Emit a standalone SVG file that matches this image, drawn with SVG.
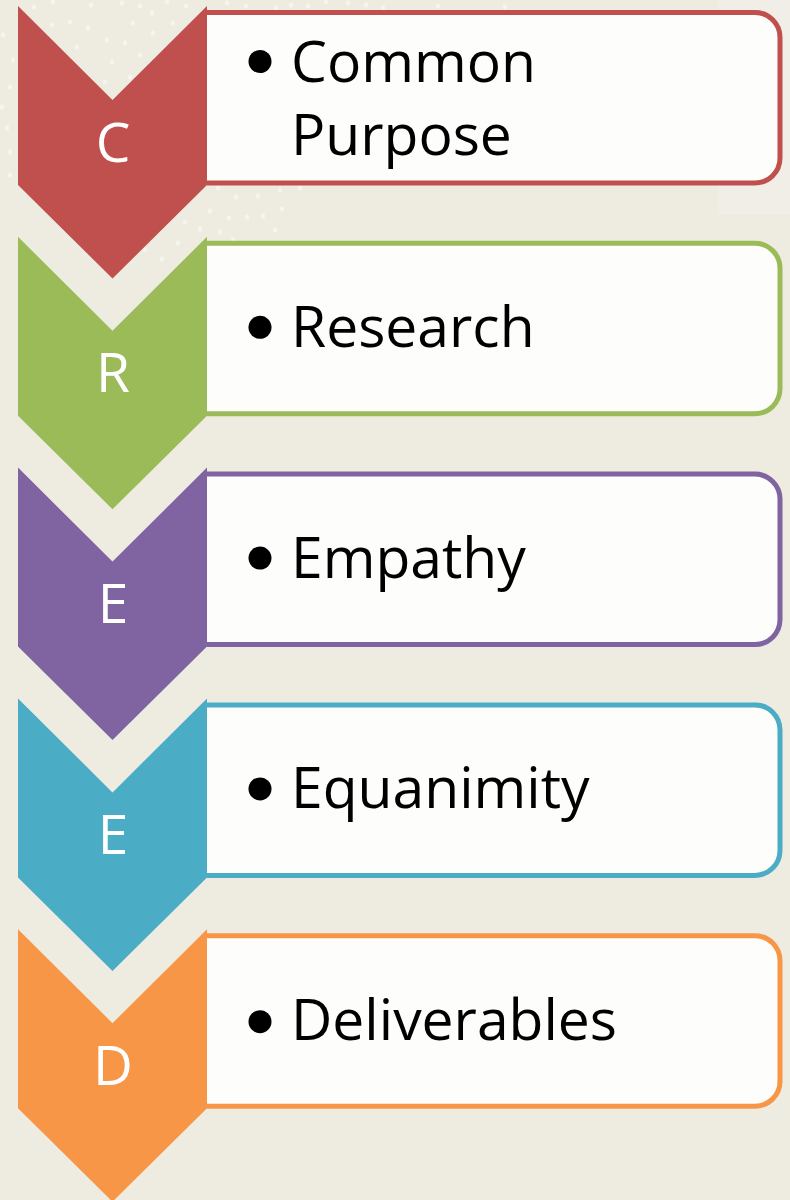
<svg xmlns="http://www.w3.org/2000/svg" width="790" height="1200" viewBox="0 0 790 1200">
  <style>
    .dot { fill: #ffffff; fill-opacity: 0.45; }
    .box { fill: #FDFDFB; stroke-width: 5; }
    .letter { font-family: "Open Sans", "Noto Sans", "Liberation Sans", sans-serif; font-size: 55px; fill: #ffffff; text-anchor: middle; }
    .label { font-family: "Open Sans", "Noto Sans", "Liberation Sans", sans-serif; font-size: 57px; fill: #000000; }
    .bullet { fill: #000000; }
  </style>
  <defs>
    <ellipse id="d" class="dot" rx="2" ry="2.8"/>
  </defs>

  <!-- page background -->
  <rect width="790" height="1200" fill="#EEECE1"/>
  <rect x="718" y="0" width="72" height="215" fill="#F0EEE6"/>

  <!-- faint dot texture, upper left -->
  <g id="texture">
    <use href="#d" x="34" y="7"/><use href="#d" x="53" y="2"/><use href="#d" x="91" y="5"/>
    <use href="#d" x="122" y="3"/><use href="#d" x="140" y="6"/><use href="#d" x="167" y="2"/>
    <use href="#d" x="186" y="6"/><use href="#d" x="227" y="3"/><use href="#d" x="246" y="6"/>
    <use href="#d" x="276" y="8"/><use href="#d" x="291" y="5"/><use href="#d" x="308" y="6"/>
    <use href="#d" x="326" y="2"/><use href="#d" x="348" y="3"/><use href="#d" x="366" y="5"/>
    <use href="#d" x="383" y="8"/><use href="#d" x="438" y="6"/><use href="#d" x="505" y="7"/>
    <use href="#d" x="70" y="22"/><use href="#d" x="88" y="28"/><use href="#d" x="52" y="25"/>
    <use href="#d" x="37" y="33"/><use href="#d" x="3" y="35"/><use href="#d" x="13" y="60"/>
    <use href="#d" x="77" y="47"/><use href="#d" x="107" y="40"/><use href="#d" x="125" y="43"/>
    <use href="#d" x="112" y="62"/><use href="#d" x="152" y="13"/><use href="#d" x="133" y="23"/>
    <use href="#d" x="173" y="23"/><use href="#d" x="153" y="33"/><use href="#d" x="140" y="55"/>
    <use href="#d" x="130" y="77"/><use href="#d" x="105" y="82"/><use href="#d" x="10" y="87"/>
    <use href="#d" x="2" y="107"/><use href="#d" x="7" y="128"/><use href="#d" x="10" y="152"/>
    <use href="#d" x="10" y="175"/>
    <use href="#d" x="218" y="188"/><use href="#d" x="236" y="197"/><use href="#d" x="258" y="196"/>
    <use href="#d" x="280" y="190"/><use href="#d" x="300" y="188"/><use href="#d" x="210" y="211"/>
    <use href="#d" x="229" y="218"/><use href="#d" x="247" y="217"/><use href="#d" x="263" y="216"/>
    <use href="#d" x="282" y="209"/><use href="#d" x="185" y="222"/><use href="#d" x="200" y="229"/>
    <use href="#d" x="220" y="232"/><use href="#d" x="275" y="230"/><use href="#d" x="178" y="243"/>
    <use href="#d" x="162" y="259"/><use href="#d" x="145" y="250"/><use href="#d" x="233" y="240"/>
  </g>

  <!-- connectors: none; the chevrons stack directly -->
  <g id="connectors"></g>

  <!-- C : Common Purpose -->
  <g id="node-c">
    <path class="box" stroke="#C0504D" d="M207,12.5 H755 A25,25 0 0 1 780,37.5 V158 A25,25 0 0 1 755,183 H207"/>
    <path fill="#C0504D" d="M18,6 L112.5,100 L207,6 L207,185 L112.5,278.5 L18,185 Z"/>
    <text class="letter" x="113" y="161.5">C</text>
    <circle class="bullet" cx="260" cy="61.5" r="11.5"/>
    <text class="label" x="291" y="81.5">Common<tspan x="291" y="155">Purpose</tspan></text>
  </g>

  <!-- R : Research -->
  <g id="node-r">
    <path class="box" stroke="#9BBB59" d="M207,243.3 H755 A25,25 0 0 1 780,268.3 V388.8 A25,25 0 0 1 755,413.8 H207"/>
    <path fill="#9BBB59" d="M18,236.8 L112.5,330.8 L207,236.8 L207,415.8 L112.5,509.3 L18,415.8 Z"/>
    <text class="letter" x="113" y="392.3">R</text>
    <circle class="bullet" cx="260" cy="327.3" r="11.5"/>
    <text class="label" x="291" y="346.8">Research</text>
  </g>

  <!-- E : Empathy -->
  <g id="node-e1">
    <path class="box" stroke="#8064A2" d="M207,474.1 H755 A25,25 0 0 1 780,499.1 V619.6 A25,25 0 0 1 755,644.6 H207"/>
    <path fill="#8064A2" d="M18,467.6 L112.5,561.6 L207,467.6 L207,646.6 L112.5,740.1 L18,646.6 Z"/>
    <text class="letter" x="113" y="623.1">E</text>
    <circle class="bullet" cx="260" cy="558.1" r="11.5"/>
    <text class="label" x="291" y="577.6">Empathy</text>
  </g>

  <!-- E : Equanimity -->
  <g id="node-e2">
    <path class="box" stroke="#4BACC6" d="M207,704.9 H755 A25,25 0 0 1 780,729.9 V850.4 A25,25 0 0 1 755,875.4 H207"/>
    <path fill="#4BACC6" d="M18,698.4 L112.5,792.4 L207,698.4 L207,877.4 L112.5,970.9 L18,877.4 Z"/>
    <text class="letter" x="113" y="853.9">E</text>
    <circle class="bullet" cx="260" cy="788.9" r="11.5"/>
    <text class="label" x="291" y="808.4">Equanimity</text>
  </g>

  <!-- D : Deliverables -->
  <g id="node-d">
    <path class="box" stroke="#F79646" d="M207,935.7 H755 A25,25 0 0 1 780,960.7 V1081.2 A25,25 0 0 1 755,1106.2 H207"/>
    <path fill="#F79646" d="M18,929.2 L112.5,1023.2 L207,929.2 L207,1108.2 L112.5,1201.7 L18,1108.2 Z"/>
    <text class="letter" x="113" y="1084.7">D</text>
    <circle class="bullet" cx="260" cy="1021.7" r="11.5"/>
    <text class="label" x="291" y="1040">Deliverables</text>
  </g>
</svg>
